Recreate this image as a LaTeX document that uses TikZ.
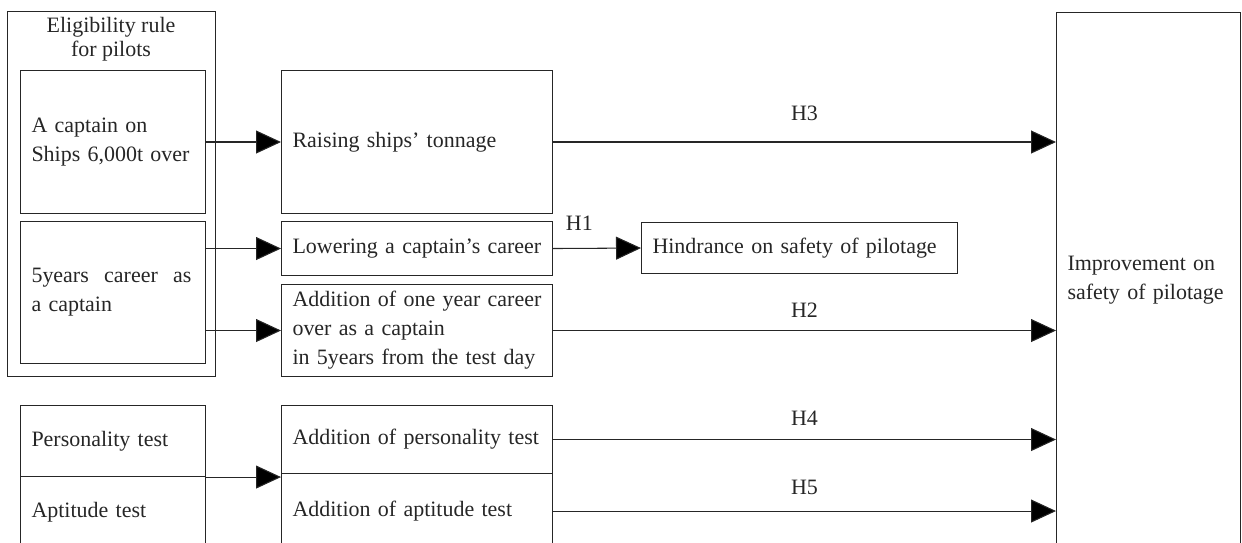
\documentclass[tikz,border=0pt]{standalone}
\usepackage{fontspec}
\setmainfont{Liberation Serif}
\usetikzlibrary{positioning,arrows.meta}

\begin{document}
\begin{tikzpicture}[x=0.02cm,y=-0.02cm,>={Triangle[length=0.5cm,width=0.46cm,fill=black]},
  line width=0.6pt,color=black!85,
  box/.style={draw,anchor=north west,align=left,inner xsep=0.22cm,inner ysep=0pt,
    font=\fontsize{12.5}{16.5}\selectfont},
  hlabel/.style={font=\fontsize{12.5}{14}\selectfont}]
  \useasboundingbox (0,0) rectangle (1242,542);
  \clip (0,0) rectangle (1242,542);
  % rule for pilots
  \node[box,text width=3.72cm,minimum height=7.3cm] (elig) at (7,11) {};
  \node[align=center,font=\fontsize{12.5}{13.7}\selectfont] (eligT) at (111,39) {Eligibility rule\\for pilots};
  \node[box,text width=3.26cm,minimum height=2.86cm] (cap) at (20,70) {A captain on\\Ships 6,000t over};
  \node[box,text width=3.26cm,minimum height=2.84cm] (car) at (20,221) {\hbox to 3.2cm{5years\hfil career\hfil as}\\a captain};
  \node[box,text width=3.26cm,minimum height=1.42cm] (pers) at (20,405) {Personality test};
  \node[box,text width=3.26cm,minimum height=1.42cm] (apt) at (20,476) {Aptitude test};
  % changes
  \node[box,text width=4.98cm,minimum height=2.86cm] (ton) at (281,70) {Raising ships' tonnage};
  \node[box,text width=4.98cm,minimum height=1.08cm] (low) at (281,221) {Lowering a captain's career};
  \node[box,text width=4.98cm,minimum height=1.84cm] (add) at (281,284) {Addition of one year career\\over as a captain\\in 5years from the test day};
  \node[box,text width=5.88cm,minimum height=1.02cm] (hin) at (641,222) {Hindrance on safety of pilotage};
  \node[box,text width=4.98cm,minimum height=1.36cm] (apers) at (281,405) {Addition of personality test};
  \node[box,text width=4.98cm,minimum height=1.5cm] (aapt) at (281,473) {Addition of aptitude test};
  \node[box,text width=3.24cm,minimum height=10.72cm] (imp) at (1056,12) {Improvement on\\safety of pilotage};
  % arrows
  \draw[->] (cap.east) -- (ton.west);
  \draw[->] (car.east |- low.west) -- (low.west);
  \draw[->] (car.east |- add.west) -- (add.west);
  \draw[->] (pers.south east) -- (pers.south east -| apers.west);
  \draw[->] (low.east) -- (hin.west) node[hlabel,pos=0.3,above=0.22cm] {H1};
  \draw[->] (ton.east) -- (ton.east -| imp.west) node[hlabel,midway,above=0.3cm] {H3};
  \draw[->] (add.east) -- (add.east -| imp.west) node[hlabel,midway,above=0.14cm] {H2};
  \draw[->] (apers.east) -- (apers.east -| imp.west) node[hlabel,midway,above=0.16cm] {H4};
  \draw[->] (aapt.east) -- (aapt.east -| imp.west) node[hlabel,midway,above=0.2cm] {H5};
\end{tikzpicture}
\end{document}
